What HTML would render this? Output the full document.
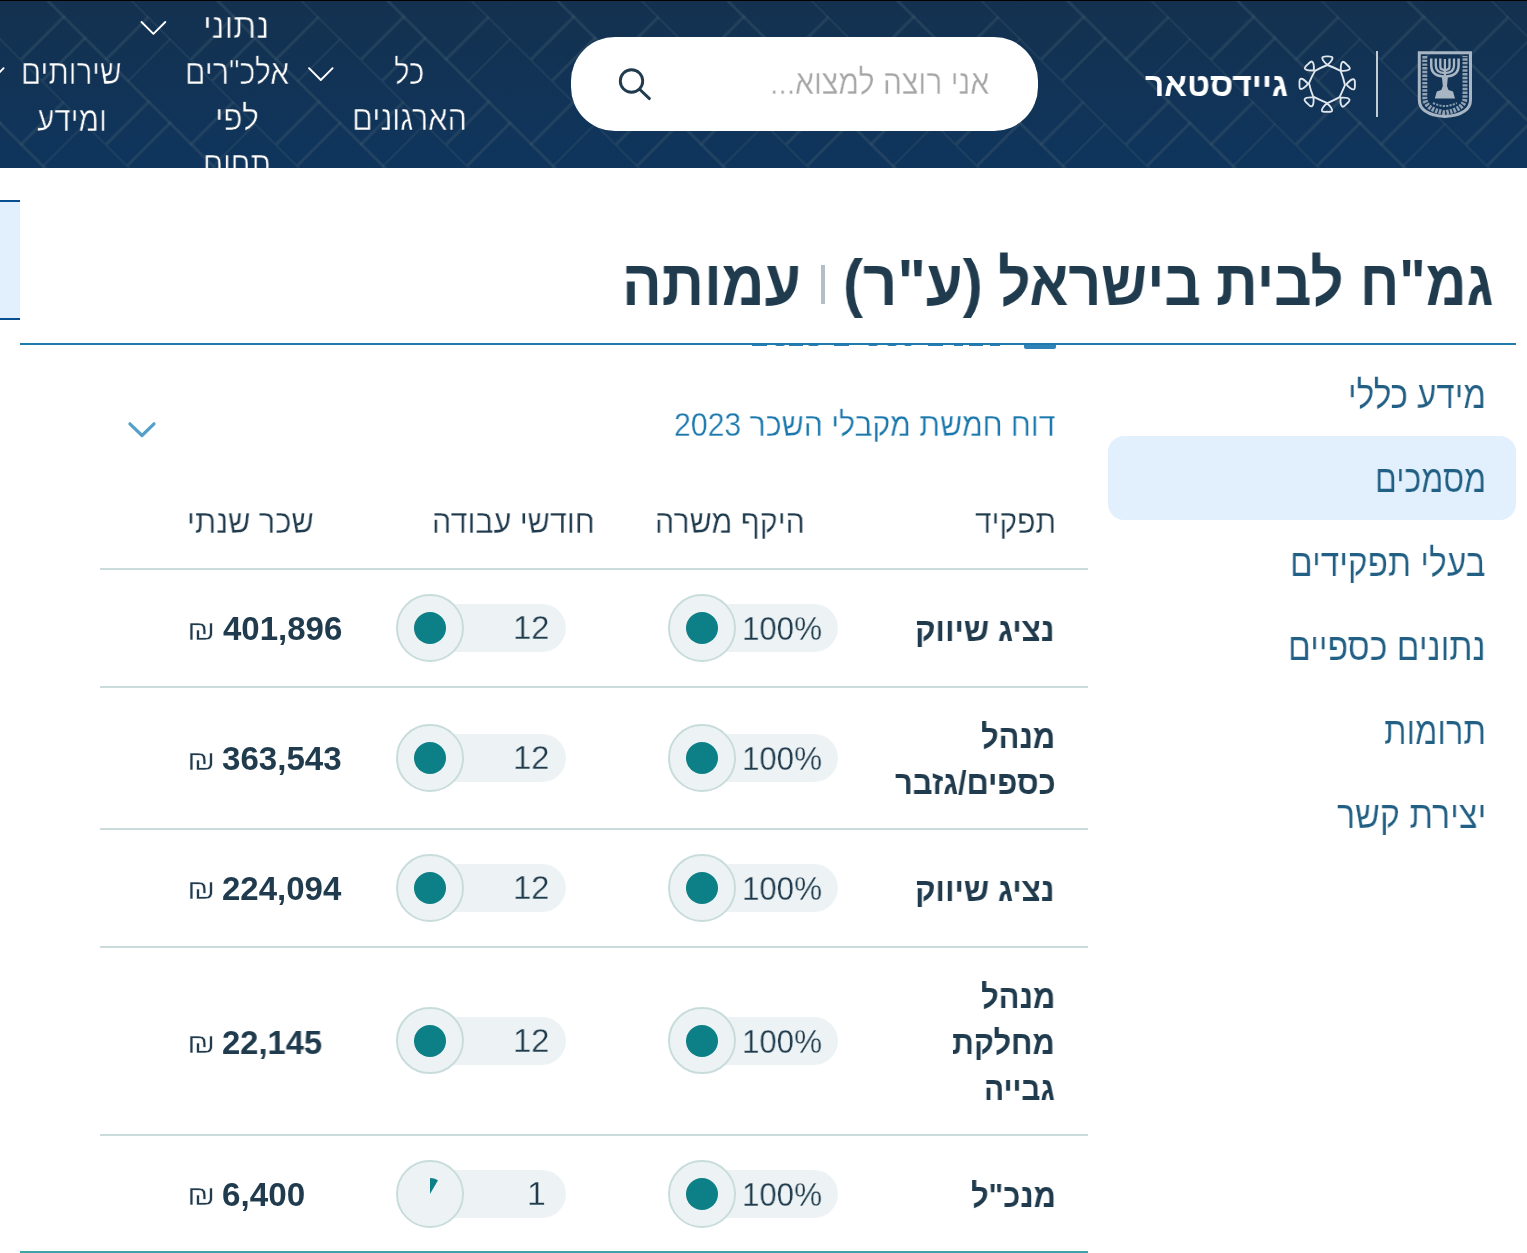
<!DOCTYPE html>
<html lang="he" dir="rtl">
<head>
<meta charset="utf-8">
<title>גמ"ח לבית בישראל</title>
<style>
html,body{margin:0;padding:0;width:1527px;height:1253px;overflow:hidden;background:#fff;}
body{font-family:"Liberation Sans",sans-serif;position:relative;}
.t{position:absolute;white-space:nowrap;transform-origin:0 0;direction:rtl;will-change:transform;}
.b{position:absolute;}

</style>
</head>
<body>
<div class="b" style="left:0;top:0;width:1527px;height:168px;overflow:hidden;background:linear-gradient(180deg,#14314f 0%,#0f355d 100%);">
<svg width="1527" height="168" style="position:absolute;left:0;top:0;">
<defs>
<pattern id="bw" width="120.20" height="120.20" patternUnits="userSpaceOnUse" patternTransform="rotate(45) translate(26.87 26.87)">
<g fill="none" stroke="#3a5568" stroke-opacity="0.42" stroke-width="3" stroke-linecap="square">
<line x1="0" y1="0" x2="120.20" y2="0"/>
<line x1="0" y1="60.10" x2="120.20" y2="60.10"/>
<line x1="0" y1="0" x2="0" y2="60.10"/>
<line x1="60.10" y1="60.10" x2="60.10" y2="120.20"/>
<line x1="30.05" y1="60.10" x2="30.05" y2="120.20"/>
<line x1="90.15" y1="0" x2="90.15" y2="60.10"/>
</g>
</pattern>
</defs>
<rect x="0" y="0" width="1527" height="168" fill="url(#bw)"/>
</svg>
</div>
<div class="b" style="left:0;top:0;width:1527px;height:1px;background:#000;"></div>
<!-- nav chevrons -->
<svg class="b" style="left:0;top:0;" width="400" height="100">
<g fill="none" stroke="#fff" stroke-width="1.9" stroke-linecap="round" stroke-linejoin="round">
<polyline points="141.5,22 153.4,33.8 165.3,22"/>
<polyline points="309,68.2 320.8,80 332.6,68.2"/>
<polyline points="-20,68.2 -8.2,80 3.6,68.2"/>
</g>
</svg>
<!-- search -->
<div class="b" style="left:571px;top:37px;width:467px;height:94px;background:#fff;border-radius:44px;"></div>
<svg class="b" style="left:610px;top:60px;" width="50" height="50">
<g fill="none" stroke="#1f3b4d" stroke-width="2.9" stroke-linecap="round">
<circle cx="21.5" cy="21" r="11.2"/>
<line x1="29.6" y1="29.2" x2="39.4" y2="38.6"/>
</g>
</svg>
<!-- guidestar logo -->
<svg class="b" style="left:1295px;top:52px;" width="65" height="65" viewBox="0 0 65 65">
<g fill="none" stroke="#dfe6ec" stroke-width="1.9" stroke-linejoin="round" stroke-linecap="round">
<path d="M32.4,13 Q39,15.5 45.6,18.9 Q48.5,26 50,33.2 Q47.5,39 44.6,45.1 Q38.5,48.5 32.4,51.1 Q25,48 18.2,44.6 Q15.5,38 14,31.1 Q16.5,25 20,18.9 Q26,15.5 32.4,13 Z"/>
<g id="lp">
<path d="M32.4,13 C29,10 26.8,7.2 27.4,5.4 C27.9,4.2 30,4.3 32.4,4.4 C34.8,4.3 36.9,4.2 37.4,5.4 C38,7.2 35.8,10 32.4,13 Z"/>
</g>
<use href="#lp" transform="rotate(45 32.2 32.1)"/>
<use href="#lp" transform="rotate(90 32.2 32.1)"/>
<use href="#lp" transform="rotate(135 32.2 32.1)"/>
<use href="#lp" transform="rotate(180 32.2 32.1)"/>
<use href="#lp" transform="rotate(225 32.2 32.1)"/>
<use href="#lp" transform="rotate(270 32.2 32.1)"/>
<use href="#lp" transform="rotate(315 32.2 32.1)"/>
</g>
</svg>
<!-- divider -->
<div class="b" style="left:1376px;top:51px;width:2px;height:66px;background:#c3cbd3;"></div>
<!-- emblem -->
<svg class="b" style="left:1410px;top:46px;" width="70" height="76" viewBox="0 0 70 76">
<g fill="none" stroke="#a8b6c4">
<path d="M9.3,6.8 L60.5,6.8 L60.5,54 Q60.5,68.5 34.9,70.6 Q9.3,68.5 9.3,54 Z" stroke-width="3"/>
<path d="M14.8,10 L14.8,52 Q15.5,63.5 34.9,66.8 Q54.3,63.5 55,52 L55,10" stroke-width="5" stroke-dasharray="2.4 1.3" stroke-opacity="0.85"/>
<path d="M23,57 Q34.9,63 46.8,57" stroke-width="2" stroke-dasharray="2.2 1.2" stroke-opacity="0.8"/>
<path d="M21.2,12.5 L21.2,19 Q21.2,30.5 34.9,30.5 Q48.6,30.5 48.6,19 L48.6,12.5" stroke-width="2.5"/>
<path d="M25.8,12.5 L25.8,19.5 Q25.8,27 34.9,27 Q44,27 44,19.5 L44,12.5" stroke-width="2.3"/>
<path d="M30.3,12.5 L30.3,20.5 Q30.3,24 34.9,24 Q39.5,24 39.5,20.5 L39.5,12.5" stroke-width="2.3"/>
<line x1="34.9" y1="13" x2="34.9" y2="45" stroke-width="2.2"/>
</g>
<g fill="#a8b6c4">
<path d="M31.8,30 L38,30 L37,40 L38.5,44 L43,45.5 L45,52.5 L24.8,52.5 L26.8,45.5 L31.3,44 L32.8,40 Z"/>

</g>
</svg>
<!-- left panel -->
<div class="b" style="left:0;top:200px;width:20px;height:120px;background:#e1f0fc;border-top:2px solid #0a4e92;border-bottom:2px solid #0a4e92;box-sizing:border-box;"></div>
<!-- title separator -->
<div class="b" style="left:821px;top:265px;width:4px;height:39px;background:#b4bec6;"></div>
<!-- hidden text fragments under line -->
<div class="b" style="left:752px;top:344px;width:15px;height:2px;background:#2a7db3;"></div>
<div class="b" style="left:775px;top:344px;width:10px;height:2px;background:#2a7db3;border-radius:0 0 5px 5px;"></div>
<div class="b" style="left:789px;top:344px;width:14px;height:2px;background:#2a7db3;"></div>
<div class="b" style="left:808px;top:344px;width:11px;height:2px;background:#2a7db3;border-radius:0 0 5px 5px;"></div>
<div class="b" style="left:834px;top:344px;width:15px;height:2px;background:#2a7db3;"></div>
<div class="b" style="left:868px;top:344px;width:10px;height:2px;background:#2a7db3;border-radius:0 0 5px 5px;"></div>
<div class="b" style="left:887px;top:344px;width:10px;height:2px;background:#2a7db3;border-radius:0 0 5px 5px;"></div>
<div class="b" style="left:904px;top:344px;width:8px;height:2px;background:#2a7db3;border-radius:0 0 5px 5px;"></div>
<div class="b" style="left:928px;top:344px;width:15px;height:2px;background:#2a7db3;"></div>
<div class="b" style="left:954px;top:344px;width:9px;height:2px;background:#2a7db3;"></div>
<div class="b" style="left:969px;top:344px;width:14px;height:2px;background:#2a7db3;"></div>
<div class="b" style="left:990px;top:344px;width:10px;height:2px;background:#2a7db3;"></div>
<div class="b" style="left:1024px;top:344px;width:32px;height:4.5px;background:#2f83b7;border-radius:0 0 2px 2px;"></div>
<!-- blue line -->
<div class="b" style="left:20px;top:343px;width:1496px;height:2px;background:#1f7aae;"></div>

<!-- side highlight -->
<div class="b" style="left:1108px;top:436px;width:408px;height:84px;background:#e1f0fc;border-radius:16px;"></div>

<!-- report chevron -->
<svg class="b" style="left:120px;top:410px;" width="45" height="35">
<polyline points="9.9,13.8 22,25.5 34,13.8" fill="none" stroke="#55a0c9" stroke-width="3.2" stroke-linecap="round" stroke-linejoin="round"/>
</svg>

<!-- table lines -->
<div class="b" style="left:100px;top:568px;width:988px;height:2px;background:#c9dbdb;"></div>
<div class="b" style="left:100px;top:686px;width:988px;height:2px;background:#c9dbdb;"></div>
<div class="b" style="left:100px;top:828px;width:988px;height:2px;background:#c9dbdb;"></div>
<div class="b" style="left:100px;top:946px;width:988px;height:2px;background:#c9dbdb;"></div>
<div class="b" style="left:100px;top:1134px;width:988px;height:2px;background:#c9dbdb;"></div>
<div class="b" style="left:20px;top:1251px;width:1068px;height:2px;background:#3da3a6;"></div>
<div class="b" style="left:688px;top:603.80px;width:150px;height:48px;background:#edf3f4;border-radius:24px;"></div>
<div class="b" style="left:668px;top:594.05px;width:67.5px;height:67.5px;box-sizing:border-box;background:#edf3f4;border:2px solid #c9dcdc;border-radius:50%;"></div>
<div class="b" style="left:685.90px;top:611.80px;width:32px;height:32px;background:#0c7f87;border-radius:50%;"></div>
<div class="b" style="left:416px;top:603.80px;width:150px;height:48px;background:#edf3f4;border-radius:24px;"></div>
<div class="b" style="left:396px;top:594.05px;width:67.5px;height:67.5px;box-sizing:border-box;background:#edf3f4;border:2px solid #c9dcdc;border-radius:50%;"></div>
<div class="b" style="left:413.90px;top:611.80px;width:32px;height:32px;background:#0c7f87;border-radius:50%;"></div>
<div class="b" style="left:688px;top:733.80px;width:150px;height:48px;background:#edf3f4;border-radius:24px;"></div>
<div class="b" style="left:668px;top:724.05px;width:67.5px;height:67.5px;box-sizing:border-box;background:#edf3f4;border:2px solid #c9dcdc;border-radius:50%;"></div>
<div class="b" style="left:685.90px;top:741.80px;width:32px;height:32px;background:#0c7f87;border-radius:50%;"></div>
<div class="b" style="left:416px;top:733.80px;width:150px;height:48px;background:#edf3f4;border-radius:24px;"></div>
<div class="b" style="left:396px;top:724.05px;width:67.5px;height:67.5px;box-sizing:border-box;background:#edf3f4;border:2px solid #c9dcdc;border-radius:50%;"></div>
<div class="b" style="left:413.90px;top:741.80px;width:32px;height:32px;background:#0c7f87;border-radius:50%;"></div>
<div class="b" style="left:688px;top:864.00px;width:150px;height:48px;background:#edf3f4;border-radius:24px;"></div>
<div class="b" style="left:668px;top:854.25px;width:67.5px;height:67.5px;box-sizing:border-box;background:#edf3f4;border:2px solid #c9dcdc;border-radius:50%;"></div>
<div class="b" style="left:685.90px;top:872.00px;width:32px;height:32px;background:#0c7f87;border-radius:50%;"></div>
<div class="b" style="left:416px;top:864.00px;width:150px;height:48px;background:#edf3f4;border-radius:24px;"></div>
<div class="b" style="left:396px;top:854.25px;width:67.5px;height:67.5px;box-sizing:border-box;background:#edf3f4;border:2px solid #c9dcdc;border-radius:50%;"></div>
<div class="b" style="left:413.90px;top:872.00px;width:32px;height:32px;background:#0c7f87;border-radius:50%;"></div>
<div class="b" style="left:688px;top:1016.60px;width:150px;height:48px;background:#edf3f4;border-radius:24px;"></div>
<div class="b" style="left:668px;top:1006.85px;width:67.5px;height:67.5px;box-sizing:border-box;background:#edf3f4;border:2px solid #c9dcdc;border-radius:50%;"></div>
<div class="b" style="left:685.90px;top:1024.60px;width:32px;height:32px;background:#0c7f87;border-radius:50%;"></div>
<div class="b" style="left:416px;top:1016.60px;width:150px;height:48px;background:#edf3f4;border-radius:24px;"></div>
<div class="b" style="left:396px;top:1006.85px;width:67.5px;height:67.5px;box-sizing:border-box;background:#edf3f4;border:2px solid #c9dcdc;border-radius:50%;"></div>
<div class="b" style="left:413.90px;top:1024.60px;width:32px;height:32px;background:#0c7f87;border-radius:50%;"></div>
<div class="b" style="left:688px;top:1169.80px;width:150px;height:48px;background:#edf3f4;border-radius:24px;"></div>
<div class="b" style="left:668px;top:1160.05px;width:67.5px;height:67.5px;box-sizing:border-box;background:#edf3f4;border:2px solid #c9dcdc;border-radius:50%;"></div>
<div class="b" style="left:685.90px;top:1177.80px;width:32px;height:32px;background:#0c7f87;border-radius:50%;"></div>
<div class="b" style="left:416px;top:1169.80px;width:150px;height:48px;background:#edf3f4;border-radius:24px;"></div>
<div class="b" style="left:396px;top:1160.05px;width:67.5px;height:67.5px;box-sizing:border-box;background:#edf3f4;border:2px solid #c9dcdc;border-radius:50%;"></div>
<svg class="b" style="left:409.90px;top:1173.80px;" width="40" height="40"><path d="M20,20 L20,4 A16,16 0 0 1 28.00,6.14 Z" fill="#0c7f87"/></svg>

<span id="n1a" class="t" style="left:394.28px;top:53.87px;font-size:35px;line-height:35px;font-weight:normal;color:#ffffff;-webkit-text-stroke:0.6px #13314f;transform:scaleX(0.8386);">כל</span>
<span id="n1b" class="t" style="left:351.58px;top:100.37px;font-size:35px;line-height:35px;font-weight:normal;color:#ffffff;-webkit-text-stroke:0.6px #13314f;transform:scaleX(0.8800);">הארגונים</span>
<span id="n2a" class="t" style="left:203.09px;top:7.87px;font-size:35px;line-height:35px;font-weight:normal;color:#ffffff;-webkit-text-stroke:0.6px #13314f;transform:scaleX(0.9515);">נתוני</span>
<span id="n2b" class="t" style="left:184.53px;top:53.87px;font-size:35px;line-height:35px;font-weight:normal;color:#ffffff;-webkit-text-stroke:0.6px #13314f;transform:scaleX(0.8627);">אלכ"רים</span>
<span id="n2c" class="t" style="left:215.08px;top:100.37px;font-size:35px;line-height:35px;font-weight:normal;color:#ffffff;-webkit-text-stroke:0.6px #13314f;transform:scaleX(0.9086);">לפי</span>
<span id="n2d" class="t" style="clip-path:inset(0 0 13.00px 0);left:203.04px;top:146.00px;font-size:35px;line-height:35px;font-weight:normal;color:#ffffff;-webkit-text-stroke:0.6px #13314f;transform:scaleX(0.8501);">תחום</span>
<span id="n3a" class="t" style="left:20.74px;top:54.37px;font-size:35px;line-height:35px;font-weight:normal;color:#ffffff;-webkit-text-stroke:0.6px #13314f;transform:scaleX(0.8466);">שירותים</span>
<span id="n3b" class="t" style="left:36.79px;top:100.87px;font-size:35px;line-height:35px;font-weight:normal;color:#ffffff;-webkit-text-stroke:0.6px #13314f;transform:scaleX(0.8509);">ומידע</span>
<span id="ph" class="t" style="left:770.43px;top:65.20px;font-size:35.8px;line-height:35.8px;font-weight:normal;color:#a6a6a6;-webkit-text-stroke:0.4px #ffffff;transform:scaleX(0.8425);">אני רוצה למצוא...</span>
<span id="gs" class="t" style="left:1145.23px;top:67.56px;font-size:33.6px;line-height:33.6px;font-weight:bold;color:#ffffff;transform:scaleX(0.9950);">גיידסטאר</span>
<span id="t1" class="t" style="left:1360.02px;top:251.02px;font-size:64px;line-height:64px;font-weight:bold;color:#1f3b4d;transform:scaleX(0.8752);">גמ"ח</span>
<span id="t2" class="t" style="left:1216.34px;top:251.02px;font-size:64px;line-height:64px;font-weight:bold;color:#1f3b4d;transform:scaleX(0.9095);">לבית</span>
<span id="t3" class="t" style="left:998.29px;top:251.02px;font-size:64px;line-height:64px;font-weight:bold;color:#1f3b4d;transform:scaleX(0.8910);">בישראל</span>
<span id="t4" class="t" style="left:843.19px;top:251.02px;font-size:64px;line-height:64px;font-weight:bold;color:#1f3b4d;transform:scaleX(0.9354);">(ע"ר)</span>
<span id="t5" class="t" style="left:622.40px;top:251.02px;font-size:64px;line-height:64px;font-weight:bold;color:#1f3b4d;transform:scaleX(0.9197);">עמותה</span>
<span id="s1" class="t" style="left:1347.76px;top:375.29px;font-size:39px;line-height:39px;font-weight:normal;color:#215f84;-webkit-text-stroke:0.2px #ffffff;transform:scaleX(0.8474);">מידע כללי</span>
<span id="s2" class="t" style="left:1374.51px;top:459.39px;font-size:39px;line-height:39px;font-weight:normal;color:#215f84;-webkit-text-stroke:0.2px #e1f0fc;transform:scaleX(0.8228);">מסמכים</span>
<span id="s3" class="t" style="left:1289.73px;top:543.19px;font-size:39px;line-height:39px;font-weight:normal;color:#215f84;-webkit-text-stroke:0.2px #ffffff;transform:scaleX(0.8573);">בעלי תפקידים</span>
<span id="s4" class="t" style="left:1287.65px;top:627.09px;font-size:39px;line-height:39px;font-weight:normal;color:#215f84;-webkit-text-stroke:0.2px #ffffff;transform:scaleX(0.8610);">נתונים כספיים</span>
<span id="s5" class="t" style="left:1383.93px;top:711.19px;font-size:39px;line-height:39px;font-weight:normal;color:#215f84;-webkit-text-stroke:0.2px #ffffff;transform:scaleX(0.8381);">תרומות</span>
<span id="s6" class="t" style="left:1337.12px;top:795.09px;font-size:39px;line-height:39px;font-weight:normal;color:#215f84;-webkit-text-stroke:0.2px #ffffff;transform:scaleX(0.8714);">יצירת קשר</span>
<span id="rep" class="t" style="left:673.60px;top:407.90px;font-size:33.2px;line-height:33.2px;font-weight:normal;color:#1b78ad;-webkit-text-stroke:0.3px #ffffff;transform:scaleX(0.9105);">דוח חמשת מקבלי השכר 2023</span>
<span id="h1" class="t" style="left:975.01px;top:504.99px;font-size:33.8px;line-height:33.8px;font-weight:normal;color:#1f3b4d;-webkit-text-stroke:0.3px #ffffff;transform:scaleX(0.8878);">תפקיד</span>
<span id="h2" class="t" style="left:655.24px;top:504.99px;font-size:33.8px;line-height:33.8px;font-weight:normal;color:#1f3b4d;-webkit-text-stroke:0.3px #ffffff;transform:scaleX(0.8988);">היקף משרה</span>
<span id="h3" class="t" style="left:432.02px;top:504.99px;font-size:33.8px;line-height:33.8px;font-weight:normal;color:#1f3b4d;-webkit-text-stroke:0.3px #ffffff;transform:scaleX(0.9019);">חודשי עבודה</span>
<span id="h4" class="t" style="left:186.61px;top:504.99px;font-size:33.8px;line-height:33.8px;font-weight:normal;color:#1f3b4d;-webkit-text-stroke:0.3px #ffffff;transform:scaleX(0.9063);">שכר שנתי</span>
<span id="r1" class="t" style="left:915.33px;top:612.73px;font-size:33.4px;line-height:33.4px;font-weight:bold;color:#1f3b4d;transform:scaleX(0.9398);">נציג שיווק</span>
<span id="r2a" class="t" style="left:981.25px;top:719.73px;font-size:33.4px;line-height:33.4px;font-weight:bold;color:#1f3b4d;transform:scaleX(0.9250);">מנהל</span>
<span id="r2b" class="t" style="left:895.43px;top:765.73px;font-size:33.4px;line-height:33.4px;font-weight:bold;color:#1f3b4d;transform:scaleX(0.9232);">כספים/גזבר</span>
<span id="r3" class="t" style="left:915.33px;top:872.93px;font-size:33.4px;line-height:33.4px;font-weight:bold;color:#1f3b4d;transform:scaleX(0.9398);">נציג שיווק</span>
<span id="r4a" class="t" style="left:981.10px;top:979.73px;font-size:33.4px;line-height:33.4px;font-weight:bold;color:#1f3b4d;transform:scaleX(0.9268);">מנהל</span>
<span id="r4b" class="t" style="left:952.00px;top:1025.53px;font-size:33.4px;line-height:33.4px;font-weight:bold;color:#1f3b4d;transform:scaleX(0.9149);">מחלקת</span>
<span id="r4c" class="t" style="left:983.50px;top:1071.93px;font-size:33.4px;line-height:33.4px;font-weight:bold;color:#1f3b4d;transform:scaleX(0.8902);">גבייה</span>
<span id="r5" class="t" style="left:971.29px;top:1178.53px;font-size:33.4px;line-height:33.4px;font-weight:bold;color:#1f3b4d;transform:scaleX(0.9231);">מנכ"ל</span>
<span id="p0a" class="t" style="left:741.79px;top:611.79px;font-size:33.8px;line-height:33.8px;font-weight:normal;color:#1f3b4d;-webkit-text-stroke:0.3px #edf3f4;transform:scaleX(0.9238);">100%</span>
<span id="p0b" class="t" style="left:513.05px;top:611.19px;font-size:33.8px;line-height:33.8px;font-weight:normal;color:#1f3b4d;-webkit-text-stroke:0.3px #edf3f4;transform:scaleX(0.9698);">12</span>
<span id="p1a" class="t" style="left:741.79px;top:741.79px;font-size:33.8px;line-height:33.8px;font-weight:normal;color:#1f3b4d;-webkit-text-stroke:0.3px #edf3f4;transform:scaleX(0.9238);">100%</span>
<span id="p1b" class="t" style="left:513.05px;top:741.19px;font-size:33.8px;line-height:33.8px;font-weight:normal;color:#1f3b4d;-webkit-text-stroke:0.3px #edf3f4;transform:scaleX(0.9698);">12</span>
<span id="p2a" class="t" style="left:741.79px;top:871.99px;font-size:33.8px;line-height:33.8px;font-weight:normal;color:#1f3b4d;-webkit-text-stroke:0.3px #edf3f4;transform:scaleX(0.9238);">100%</span>
<span id="p2b" class="t" style="left:513.05px;top:871.39px;font-size:33.8px;line-height:33.8px;font-weight:normal;color:#1f3b4d;-webkit-text-stroke:0.3px #edf3f4;transform:scaleX(0.9698);">12</span>
<span id="p3a" class="t" style="left:741.79px;top:1024.59px;font-size:33.8px;line-height:33.8px;font-weight:normal;color:#1f3b4d;-webkit-text-stroke:0.3px #edf3f4;transform:scaleX(0.9238);">100%</span>
<span id="p3b" class="t" style="left:513.05px;top:1023.99px;font-size:33.8px;line-height:33.8px;font-weight:normal;color:#1f3b4d;-webkit-text-stroke:0.3px #edf3f4;transform:scaleX(0.9698);">12</span>
<span id="p4a" class="t" style="left:741.79px;top:1177.79px;font-size:33.8px;line-height:33.8px;font-weight:normal;color:#1f3b4d;-webkit-text-stroke:0.3px #edf3f4;transform:scaleX(0.9238);">100%</span>
<span id="p4b" class="t" style="left:527.01px;top:1177.19px;font-size:33.8px;line-height:33.8px;font-weight:normal;color:#1f3b4d;-webkit-text-stroke:0.3px #edf3f4;transform:scaleX(1.0000);">1</span>
<span id="sal0" class="t" style="left:222.60px;top:612.17px;font-size:33px;line-height:33px;font-weight:bold;color:#1f3b4d;transform:scaleX(0.9975);">401,896</span>
<span id="shk0" class="t" style="left:186.50px;top:616.52px;font-size:27.5px;line-height:27.5px;font-weight:normal;color:#1f3b4d;-webkit-text-stroke:0.5px #ffffff;transform:scaleX(1.2182);">₪</span>
<span id="sal1" class="t" style="left:222.39px;top:742.27px;font-size:33px;line-height:33px;font-weight:bold;color:#1f3b4d;transform:scaleX(1.0026);">363,543</span>
<span id="shk1" class="t" style="left:186.50px;top:746.62px;font-size:27.5px;line-height:27.5px;font-weight:normal;color:#1f3b4d;-webkit-text-stroke:0.5px #ffffff;transform:scaleX(1.2182);">₪</span>
<span id="sal2" class="t" style="left:222.40px;top:872.07px;font-size:33px;line-height:33px;font-weight:bold;color:#1f3b4d;transform:scaleX(0.9959);">224,094</span>
<span id="shk2" class="t" style="left:186.50px;top:876.42px;font-size:27.5px;line-height:27.5px;font-weight:normal;color:#1f3b4d;-webkit-text-stroke:0.5px #ffffff;transform:scaleX(1.2182);">₪</span>
<span id="sal3" class="t" style="left:221.81px;top:1025.67px;font-size:33px;line-height:33px;font-weight:bold;color:#1f3b4d;transform:scaleX(0.9930);">22,145</span>
<span id="shk3" class="t" style="left:186.50px;top:1030.02px;font-size:27.5px;line-height:27.5px;font-weight:normal;color:#1f3b4d;-webkit-text-stroke:0.5px #ffffff;transform:scaleX(1.2182);">₪</span>
<span id="sal4" class="t" style="left:221.79px;top:1178.07px;font-size:33px;line-height:33px;font-weight:bold;color:#1f3b4d;transform:scaleX(1.0065);">6,400</span>
<span id="shk4" class="t" style="left:186.50px;top:1182.42px;font-size:27.5px;line-height:27.5px;font-weight:normal;color:#1f3b4d;-webkit-text-stroke:0.5px #ffffff;transform:scaleX(1.2182);">₪</span>
</body>
</html>
